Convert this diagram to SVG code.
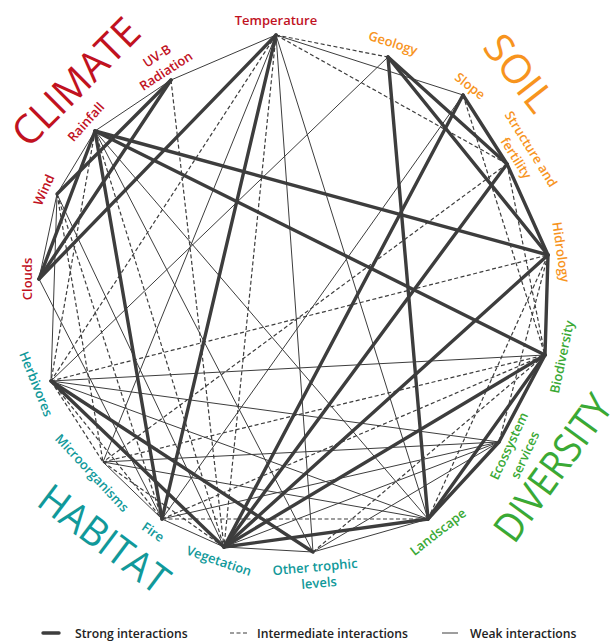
<svg xmlns="http://www.w3.org/2000/svg" width="615" height="641" viewBox="0 0 615 641">
<style>
.s{stroke:#3d3d3d;stroke-width:3.4;fill:none;stroke-linecap:round}
.m{stroke:#3d3d3d;stroke-width:1.2;fill:none;stroke-dasharray:4 2.5}
.w{stroke:#3d3d3d;stroke-width:1;fill:none}
text{font-family:"Open Sans","Noto Sans","Liberation Sans",sans-serif}
.lbl{font-size:13px;font-weight:600;text-anchor:middle}
.big{font-size:40px;font-weight:400;text-anchor:middle}
.cl{fill:#c1121f}.so{fill:#f7941e}.di{fill:#3aa935}.ha{fill:#11999a}
.leg{font-size:12.2px;font-weight:600;fill:#222}
</style>
<rect width="615" height="641" fill="#fff"/>
<g id="connectors">
<!-- strong -->
<line class="s" x1="276" y1="35" x2="39" y2="279"/>
<line class="s" x1="276" y1="35" x2="162" y2="519"/>
<line class="s" x1="171" y1="80" x2="57" y2="194"/>
<line class="s" x1="171" y1="80" x2="39" y2="279"/>
<line class="s" x1="95" y1="131" x2="39" y2="279"/>
<line class="s" x1="95" y1="131" x2="548" y2="255"/>
<line class="s" x1="95" y1="131" x2="545" y2="355"/>
<line class="s" x1="95" y1="131" x2="162" y2="519"/>
<line class="s" x1="388" y1="57" x2="428" y2="519"/>
<line class="s" x1="388" y1="57" x2="507" y2="164"/>
<line class="s" x1="388" y1="57" x2="548" y2="255"/>
<line class="s" x1="463" y1="95" x2="507" y2="164"/>
<line class="s" x1="463" y1="95" x2="224" y2="547"/>
<line class="s" x1="507" y1="164" x2="224" y2="547"/>
<line class="s" x1="507" y1="164" x2="548" y2="255"/>
<line class="s" x1="548" y1="255" x2="224" y2="547"/>
<line class="s" x1="548" y1="255" x2="545" y2="355"/>
<line class="s" x1="545" y1="355" x2="224" y2="547"/>
<line class="s" x1="545" y1="355" x2="428" y2="519"/>
<line class="s" x1="545" y1="355" x2="499" y2="442"/>
<line class="s" x1="499" y1="442" x2="428" y2="519"/>
<line class="s" x1="428" y1="519" x2="224" y2="547"/>
<line class="s" x1="51" y1="381" x2="313" y2="552"/>
<line class="s" x1="51" y1="381" x2="224" y2="547"/>
<!-- intermediate -->
<line class="m" x1="276" y1="35" x2="388" y2="57"/>
<line class="m" x1="276" y1="35" x2="507" y2="164"/>
<line class="m" x1="276" y1="35" x2="224" y2="547"/>
<line class="m" x1="276" y1="35" x2="51" y2="381"/>
<line class="m" x1="171" y1="80" x2="224" y2="547"/>
<line class="m" x1="95" y1="131" x2="224" y2="547"/>
<line class="m" x1="95" y1="131" x2="51" y2="381"/>
<line class="m" x1="57" y1="194" x2="162" y2="519"/>
<line class="m" x1="57" y1="194" x2="103" y2="462"/>
<line class="m" x1="463" y1="95" x2="545" y2="355"/>
<line class="m" x1="507" y1="164" x2="545" y2="355"/>
<line class="m" x1="507" y1="164" x2="103" y2="462"/>
<line class="m" x1="548" y1="255" x2="499" y2="442"/>
<line class="m" x1="548" y1="255" x2="428" y2="519"/>
<line class="m" x1="51" y1="381" x2="548" y2="255"/>
<line class="m" x1="51" y1="381" x2="103" y2="462"/>
<line class="m" x1="51" y1="381" x2="162" y2="519"/>
<line class="m" x1="103" y1="462" x2="545" y2="355"/>
<line class="m" x1="103" y1="462" x2="224" y2="547"/>
<line class="m" x1="162" y1="519" x2="428" y2="519"/>
<line class="m" x1="162" y1="519" x2="545" y2="355"/>
<line class="m" x1="313" y1="552" x2="545" y2="355"/>
<!-- weak -->
<line class="w" x1="276" y1="35" x2="171" y2="80"/>
<line class="w" x1="276" y1="35" x2="463" y2="95"/>
<line class="w" x1="276" y1="35" x2="103" y2="462"/>
<line class="w" x1="276" y1="35" x2="313" y2="552"/>
<line class="w" x1="276" y1="35" x2="428" y2="519"/>
<line class="w" x1="171" y1="80" x2="95" y2="131"/>
<line class="w" x1="95" y1="131" x2="57" y2="194"/>
<line class="w" x1="57" y1="194" x2="39" y2="279"/>
<line class="w" x1="57" y1="194" x2="51" y2="381"/>
<line class="w" x1="57" y1="194" x2="224" y2="547"/>
<line class="w" x1="95" y1="131" x2="313" y2="552"/>
<line class="w" x1="95" y1="131" x2="428" y2="519"/>
<line class="w" x1="39" y1="279" x2="162" y2="519"/>
<line class="w" x1="463" y1="95" x2="162" y2="519"/>
<line class="w" x1="51" y1="381" x2="545" y2="355"/>
<line class="w" x1="51" y1="381" x2="428" y2="519"/>
<line class="w" x1="51" y1="381" x2="499" y2="442"/>
<line class="w" x1="51" y1="381" x2="388" y2="57"/>
<line class="w" x1="103" y1="462" x2="162" y2="519"/>
<line class="w" x1="103" y1="462" x2="499" y2="442"/>
<line class="w" x1="103" y1="462" x2="428" y2="519"/>
<line class="w" x1="162" y1="519" x2="224" y2="547"/>
<line class="w" x1="162" y1="519" x2="499" y2="442"/>
<line class="w" x1="224" y1="547" x2="313" y2="552"/>
<line class="w" x1="224" y1="547" x2="499" y2="442"/>
<line class="w" x1="313" y1="552" x2="499" y2="442"/>
<line class="w" x1="313" y1="552" x2="428" y2="519"/>
</g>
<g id="group-labels">
<text class="big cl" transform="translate(76,82) rotate(-45)" y="14" textLength="162" lengthAdjust="spacingAndGlyphs">CLIMATE</text>
<text class="big so" transform="translate(519,73) rotate(52)" y="14" textLength="86" lengthAdjust="spacingAndGlyphs">SOIL</text>
<text class="big di" transform="translate(553,468) rotate(-54)" y="14" textLength="170" lengthAdjust="spacingAndGlyphs">DIVERSITY</text>
<text class="big ha" transform="translate(104,539) rotate(37)" y="14" textLength="152" lengthAdjust="spacingAndGlyphs">HABITAT</text>
</g>
<g id="node-temperature"><text class="lbl cl" x="276" y="25">Temperature</text></g>
<g id="node-uvb"><text class="lbl cl" transform="translate(157,56) rotate(-33)" y="4.5">UV-B</text><text class="lbl cl" transform="translate(166,71) rotate(-33)" y="4.5">Radiation</text></g>
<g id="node-rainfall"><text class="lbl cl" transform="translate(86,122) rotate(-48)" y="4.5">Rainfall</text></g>
<g id="node-wind"><text class="lbl cl" transform="translate(44,190) rotate(-66)" y="4.5">Wind</text></g>
<g id="node-clouds"><text class="lbl cl" transform="translate(27,279) rotate(-90)" y="4.5">Clouds</text></g>
<g id="node-herbivores"><text class="lbl ha" transform="translate(36,384) rotate(68)" y="4.5">Herbivores</text></g>
<g id="node-microorganisms"><text class="lbl ha" transform="translate(92,473) rotate(47)" y="4.5">Microorganisms</text></g>
<g id="node-fire"><text class="lbl ha" transform="translate(153,532) rotate(35)" y="4.5">Fire</text></g>
<g id="node-vegetation"><text class="lbl ha" transform="translate(219,561) rotate(19)" y="4.5">Vegetation</text></g>
<g id="node-other"><text class="lbl ha" transform="translate(315,567) rotate(-5)" y="4.5">Other trophic</text><text class="lbl ha" transform="translate(319,583) rotate(-5)" y="4.5">levels</text></g>
<g id="node-landscape"><text class="lbl di" transform="translate(438,532) rotate(-38)" y="4.5">Landscape</text></g>
<g id="node-ecosystem"><text class="lbl di" transform="translate(509,446) rotate(-65)" y="4.5">Ecossystem</text><text class="lbl di" transform="translate(525,455) rotate(-65)" y="4.5">services</text></g>
<g id="node-biodiversity"><text class="lbl di" transform="translate(562,357) rotate(-78)" y="4.5">Biodiversity</text></g>
<g id="node-hidrology"><text class="lbl so" transform="translate(561,252) rotate(82)" y="4.5">Hidrology</text></g>
<g id="node-structure"><text class="lbl so" transform="translate(531,149) rotate(58)" y="4.5">Structure and</text><text class="lbl so" transform="translate(516,158) rotate(58)" y="4.5">fertility</text></g>
<g id="node-slope"><text class="lbl so" transform="translate(470,86) rotate(38)" y="4.5">Slope</text></g>
<g id="node-geology"><text class="lbl so" transform="translate(393,43) rotate(18)" y="4.5">Geology</text></g>
<g id="legend">
<line class="s" x1="43" y1="633" x2="59" y2="633"/>
<text class="leg" x="75" y="638">Strong interactions</text>
<line class="m" x1="230" y1="633" x2="248" y2="633"/>
<text class="leg" x="257" y="638">Intermediate interactions</text>
<line class="w" x1="442" y1="633" x2="458" y2="633"/>
<text class="leg" x="470" y="638">Weak interactions</text>
</g>
</svg>
